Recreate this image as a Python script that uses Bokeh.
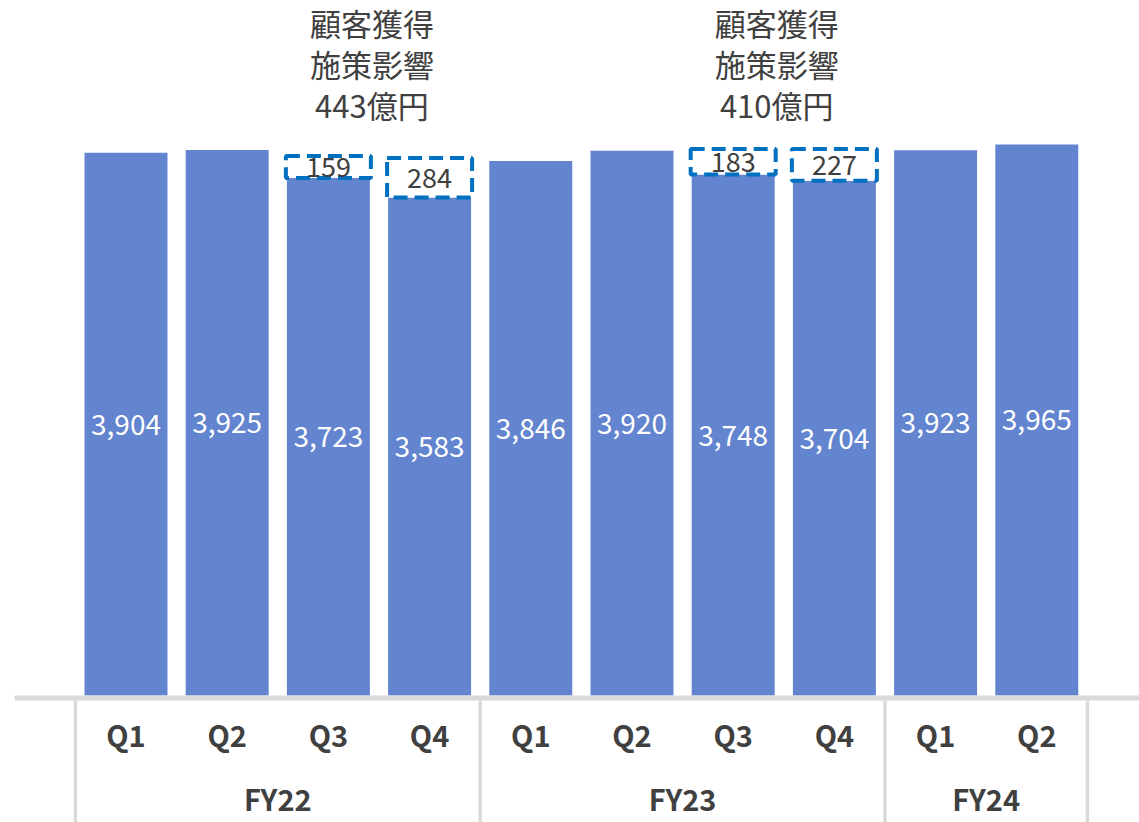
from bokeh.plotting import figure
from bokeh.models import Range1d, ColumnDataSource
from bokeh.core.properties import value
from bokeh.embed import file_html
from bokeh.resources import INLINE

# ---- data ----
groups = ["FY22", "FY23", "FY24"]
group_sizes = [4, 4, 2]
quarters = ["Q1", "Q2", "Q3", "Q4", "Q1", "Q2", "Q3", "Q4", "Q1", "Q2"]
revenue = [3904, 3925, 3723, 3583, 3846, 3920, 3748, 3704, 3923, 3965]
impact = [0, 0, 159, 284, 0, 0, 183, 227, 0, 0]
note_title = ["顧客獲得", "施策影響"]
note_unit = "億円"

# ---- layout / style ----
W, H = 1139, 822
Y_TOP, Y_BOTTOM = 5000, -913
FONT = "Noto Sans CJK JP"
BAR_COLOR = "#6384CF"
DASH_COLOR = "#0070C0"
TEXT_COLOR = "#404040"
AXIS_COLOR = "#D9D9D9"


def py(pix):
    return Y_TOP - pix * (Y_TOP - Y_BOTTOM) / H


p = figure(width=W, height=H, output_backend="svg", toolbar_location=None,
           x_range=Range1d(-1.240, 10.015), y_range=Range1d(Y_BOTTOM, Y_TOP),
           min_border=0)
p.axis.visible = False
p.grid.visible = False
p.outline_line_color = None
p.background_fill_color = "white"
p.border_fill_color = "white"

xs = list(range(len(revenue)))

# main bars
src = ColumnDataSource(dict(
    x=xs, top=revenue, mid=[v / 2 for v in revenue],
    label=[f"{v:,}" for v in revenue]))
p.vbar(x="x", top="top", bottom=0, width=0.82, source=src,
       fill_color=BAR_COLOR, line_color=None)
p.text(x="x", y="mid", text="label", source=src, text_color="white",
       text_font=value(FONT), text_font_size="28px",
       text_align="center", text_baseline="middle")

# dashed impact boxes
ix = [i for i in xs if impact[i] > 0]
isrc = ColumnDataSource(dict(
    x=ix,
    bottom=[revenue[i] for i in ix],
    top=[revenue[i] + impact[i] for i in ix],
    mid=[revenue[i] + impact[i] / 2 for i in ix],
    label=[str(impact[i]) for i in ix]))
p.vbar(x="x", top="top", bottom="bottom", width=0.84, source=isrc,
       fill_color="white", line_color=DASH_COLOR, line_width=4,
       line_dash="14 7")
p.text(x="x", y="mid", text="label", source=isrc, text_color=TEXT_COLOR,
       text_font=value(FONT), text_font_size="27px",
       text_align="center", text_baseline="middle")

# annotations per fiscal year with impacts
starts = [sum(group_sizes[:k]) for k in range(len(groups))]
note_x, note_total = [], []
for g, s, n in zip(groups, starts, group_sizes):
    tot = sum(impact[s:s + n])
    if tot > 0:
        idx = [i for i in range(s, s + n) if impact[i] > 0]
        note_x.append(sum(idx) / len(idx) - 0.07)
        note_total.append(tot)
for line_i, ypix in enumerate([22, 63, 104]):
    texts = [note_title[line_i] if line_i < 2 else f"{t}{note_unit}" for t in note_total]
    p.text(x=note_x, y=[py(ypix)] * len(note_x), text=texts,
           text_color=TEXT_COLOR, text_font=value(FONT), text_font_size="31px",
           text_align="center", text_baseline="middle")

# axis line
p.segment(x0=[-1.10], y0=[py(697.5)], x1=[10.1], y1=[py(697.5)],
          line_color=AXIS_COLOR, line_width=5)

# group separators
bounds = [-0.5] + [s + n - 0.5 for s, n in zip(starts, group_sizes)]
p.segment(x0=bounds, y0=[py(700)] * len(bounds), x1=bounds,
          y1=[Y_BOTTOM] * len(bounds), line_color=AXIS_COLOR, line_width=3.5)

# quarter labels
p.text(x=xs, y=[py(733)] * len(xs), text=quarters, text_color=TEXT_COLOR,
       text_font=value(FONT), text_font_size="29px", text_font_style="bold",
       text_align="center", text_baseline="middle")

# group labels
gx = [s + (n - 1) / 2 for s, n in zip(starts, group_sizes)]
p.text(x=gx, y=[py(797)] * len(gx), text=groups, text_color=TEXT_COLOR,
       text_font=value(FONT), text_font_size="29px", text_font_style="bold",
       text_align="center", text_baseline="middle")

open("out.html", "w").write(file_html(p, INLINE))
